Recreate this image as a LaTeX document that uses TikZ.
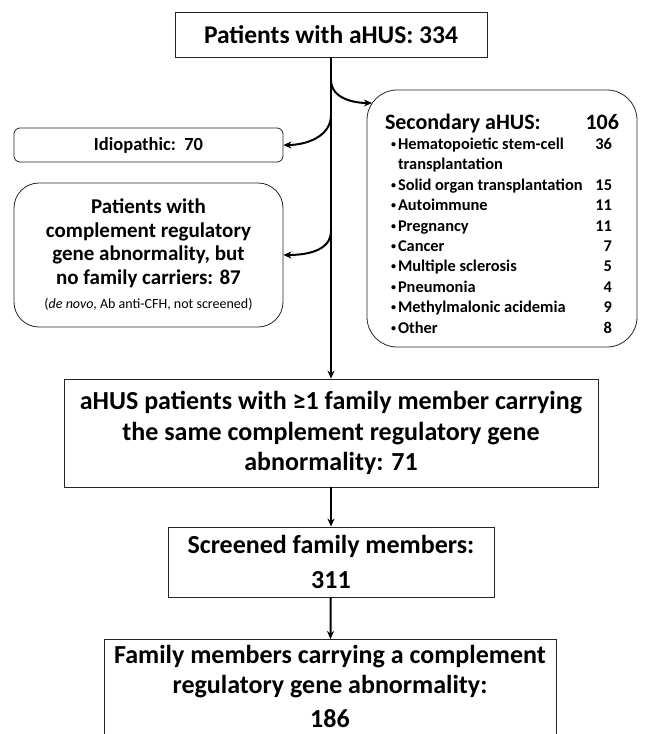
\documentclass[tikz,border=0pt]{standalone}
\usepackage{fontspec}
\setmainfont{Carlito}
\usetikzlibrary{arrows.meta}
\newcommand{\secitem}[2]{\hspace*{12pt}\makebox[7pt][l]{\raisebox{2pt}{\fontsize{10}{10}\selectfont\textbullet}}#1\hfill#2\hspace*{13pt}\par}

\begin{document}
\begin{tikzpicture}[x=1pt,y=-1pt,
  box/.style={draw=black!85,line width=.8pt,inner sep=0pt,align=center},
  rbox/.style={box,rounded corners=#1},
  arr/.style={line width=2pt,-{Stealth[length=8pt,width=7pt]}}]
   \useasboundingbox (0,0) rectangle (646,734);
   \clip (0,0) rectangle (646,734);

   \node[box,minimum width=312pt,minimum height=45pt,font=\bfseries\fontsize{25.5}{30}\selectfont] (all) at (331,34.5) {Patients with aHUS: 334};
   \node[rbox=6pt,minimum width=269pt,minimum height=34pt,font=\bfseries\fontsize{18.5}{22}\selectfont] (idio) at (148.5,145) {Idiopathic:~~70};
   \node[rbox=25pt,minimum width=269pt,minimum height=144pt,font=\bfseries\fontsize{21}{23.5}\selectfont] (gene) at (148.5,255)
      {Patients with\\complement regulatory\\gene abnormality, but\\no family carriers: 87\\[1pt]{\mdseries\fontsize{14}{16}\selectfont(\textit{de novo}, Ab anti-CFH, not screened)}};
   \node[rbox=30pt,minimum width=270pt,minimum height=257pt] (sec) at (502,218.5)
      {\parbox{246pt}{\bfseries\vspace*{10pt}
         {\fontsize{22}{26}\selectfont\hspace*{6pt}Secondary aHUS:\hfill 106\hspace*{6pt}\par}
         \fontsize{16.4}{20.4}\selectfont
         \secitem{Hematopoietic stem-cell}{36}
         \hspace*{19pt}transplantation\par
         \secitem{Solid organ transplantation}{15}
         \secitem{Autoimmune}{11}
         \secitem{Pregnancy}{11}
         \secitem{Cancer}{7}
         \secitem{Multiple sclerosis}{5}
         \secitem{Pneumonia}{4}
         \secitem{Methylmalonic acidemia}{9}
         \secitem{Other}{8}}};
   \node[box,minimum width=534pt,minimum height=108pt,font=\bfseries\fontsize{26}{30.5}\selectfont] (fam) at (331,433)
      {aHUS patients with ≥1 family member carrying\\the same complement regulatory gene\\abnormality: 71};
   \node[box,minimum width=326pt,minimum height=70pt,font=\bfseries\fontsize{26}{35}\selectfont] (scr) at (331,562)
      {Screened family members:\\311};
   \node[box,minimum width=452pt,inner ysep=6pt,anchor=north,font=\bfseries\fontsize{26}{30}\selectfont] (car) at (330,639)
      {Family members carrying a complement\\regulatory gene abnormality:\\[4pt]186\\[6pt]\mbox{}};

   \coordinate (b1) at (331,80);
   \coordinate (e1) at (372,103);
   \coordinate (b2) at (331,115);
   \coordinate (b3) at (331,231);

   \draw[arr,line width=2.5pt] (all) -- (fam);
   \draw[arr] (b1) to[out=-90,in=180] (e1);
   \draw[arr] (b2) to[out=-90,in=0] (idio);
   \draw[arr] (b3) to[out=-90,in=0] (gene);
   \draw[arr] (fam) -- (scr);
   \draw[arr] (scr) -- (car);
 \end{tikzpicture}
\end{document}
